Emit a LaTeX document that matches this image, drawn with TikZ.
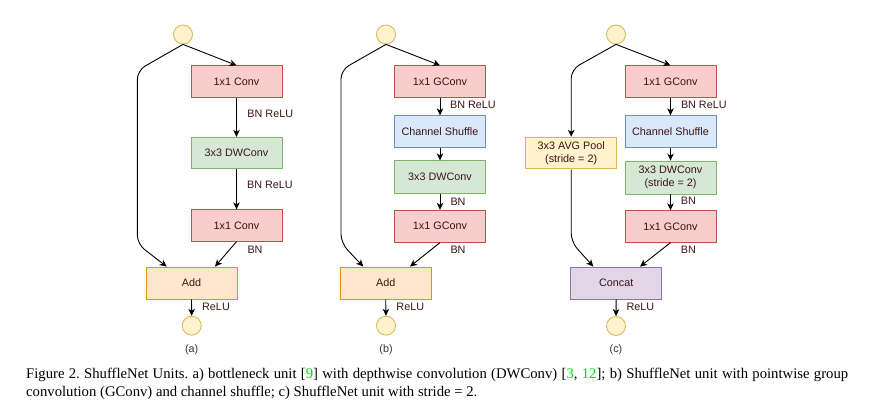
\documentclass[tikz,border=0pt]{standalone}
\usepackage{fontspec}
\setmainfont{Liberation Serif}
\newfontfamily\labfont{Liberation Sans}
\usetikzlibrary{arrows.meta,calc}
\frenchspacing
\definecolor{txt}{HTML}{3C1414}
\definecolor{redF}{HTML}{F8CECC}\definecolor{redD}{HTML}{B85450}
\definecolor{greenF}{HTML}{D5E8D4}\definecolor{greenD}{HTML}{82B366}
\definecolor{blueF}{HTML}{DAE8FC}\definecolor{blueD}{HTML}{6C8EBF}
\definecolor{orangeF}{HTML}{FFE6CC}\definecolor{orangeD}{HTML}{D79B00}
\definecolor{yelF}{HTML}{FFF2CC}\definecolor{yelD}{HTML}{D6B656}
\definecolor{purF}{HTML}{E1D5E7}\definecolor{purD}{HTML}{9673A6}
\definecolor{citegreen}{HTML}{00E000}
\tikzset{
  box/.style={rectangle, draw, line width=0.8pt, minimum width=91pt, minimum height=31.5pt,
    inner sep=0pt, align=center, text=txt, font=\labfont\fontsize{10.8}{13.5}\selectfont},
  redbox/.style={box, fill=redF, draw=redD},
  greenbox/.style={box, fill=greenF, draw=greenD},
  bluebox/.style={box, fill=blueF, draw=blueD},
  orangebox/.style={box, fill=orangeF, draw=orangeD},
  yelbox/.style={box, fill=yelF, draw=yelD},
  purbox/.style={box, fill=purF, draw=purD},
  port/.style={circle, draw=yelD, fill=yelF, line width=0.8pt, minimum size=19pt, inner sep=0pt},
  lbl/.style={text=txt, inner sep=0pt, font=\labfont\fontsize{10.8}{13}\selectfont},
  sub/.style={text=black!80, inner sep=0pt, font=\labfont\fontsize{10.8}{13}\selectfont},
  conn/.style={draw=black, line width=0.9pt, -{Stealth[length=7pt,width=6.5pt,inset=2pt]}},
  bypass/.style={conn, rounded corners=9pt},
  captxt/.style={anchor=base west, inner sep=0pt, font=\fontsize{14.7}{17}\selectfont},
}
\begin{document}
\begin{tikzpicture}[x=1pt,y=-1pt]
\path[use as bounding box, fill=white] (0,0) rectangle (881,416);

% ---------- (a) ----------
\node[port] (ain) at (183,34.5) {};
\node[redbox] (a1) at (236.5,81.5) {1x1 Conv};
\node[greenbox] (a2) at (236.5,153) {3x3 DWConv};
\node[redbox] (a3) at (236.5,225.5) {1x1 Conv};
\node[orangebox, minimum height=32pt] (aadd) at (191.5,283) {Add};
\node[port] (aout) at (191.7,325.7) {};
\node[sub] (alab) at (191.7,350) {(a)};
\draw[conn] (ain.south) -- (a1.north);
\draw[conn] (a1.south) -- (a2.north);
\draw[conn] (a2.south) -- (a3.north);
\draw[conn] (a3.south) -- ([xshift=23.5pt]aadd.north);
\draw[bypass] (ain.south) -- (137.3,70.5) -- (137.3,244) -- ([xshift=-24.8pt]aadd.north);
\draw[conn] (aadd.south) -- (aout.north);
\node[lbl] (al1) at (270.3,114) {BN ReLU};
\node[lbl] (al2) at (270,185) {BN ReLU};
\node[lbl] (al3) at (255,249.3) {BN};
\node[lbl] (al4) at (216,306.7) {ReLU};

% ---------- (b) ----------
\node[port] (bin) at (386,34.5) {};
\node[redbox] (b1) at (440,81.5) {1x1 GConv};
\node[bluebox] (b2) at (440,131.5) {Channel Shuffle};
\node[greenbox, minimum height=32.5pt] (b3) at (440,177) {3x3 DWConv};
\node[redbox, minimum height=32pt] (b4) at (440,226.2) {1x1 GConv};
\node[orangebox, minimum height=32pt] (badd) at (385.7,283) {Add};
\node[port] (bout) at (386,325.7) {};
\node[sub] (blab) at (386,350) {(b)};
\draw[conn] (bin.south) -- (b1.north);
\draw[conn] (b1.south) -- (b2.north);
\draw[conn] (b2.south) -- (b3.north);
\draw[conn] (b3.south) -- (b4.north);
\draw[conn] (b4.south) -- ([xshift=24.3pt]badd.north);
\draw[bypass] (bin.south) -- (341,70) -- (341,243) -- ([xshift=-22.4pt]badd.north);
\draw[conn] (badd.south) -- (bout.north);
\node[lbl] (bl1) at (473,105) {BN ReLU};
\node[lbl] (bl2) at (458,201.7) {BN};
\node[lbl] (bl3) at (458,250) {BN};
\node[lbl] (bl4) at (410.3,306.7) {ReLU};

% ---------- (c) ----------
\node[port] (cin) at (616,34.5) {};
\node[redbox] (c1) at (670.5,81.5) {1x1 GConv};
\node[bluebox] (c2) at (670.5,131.5) {Channel Shuffle};
\node[greenbox, minimum height=33pt] (c3) at (670.5,177.5) {3x3 DWConv\\(stride = 2)};
\node[redbox] (c4) at (670.5,226.5) {1x1 GConv};
\node[yelbox, minimum height=31.7pt] (cpool) at (571.2,153) {3x3 AVG Pool\\(stride = 2)};
\node[purbox, minimum height=32pt] (ccat) at (616.2,283) {Concat};
\node[port] (cout) at (616,326) {};
\node[sub] (clab) at (616,350) {(c)};
\draw[conn] (cin.south) -- (c1.north);
\draw[conn] (c1.south) -- (c2.north);
\draw[conn] (c2.south) -- (c3.north);
\draw[conn] (c3.south) -- (c4.north);
\draw[conn] (c4.south) -- ([xshift=23.8pt]ccat.north);
\draw[bypass] (cin.south) -- (571.2,69.5) -- (cpool.north);
\draw[bypass] (cpool.south) -- (571.2,242) -- ([xshift=-22.9pt]ccat.north);
\draw[conn] (ccat.south) -- (cout.north);
\node[lbl] (cl1) at (703.8,105) {BN ReLU};
\node[lbl] (cl2) at (688.3,200.7) {BN};
\node[lbl] (cl3) at (688.3,250) {BN};
\node[lbl] (cl4) at (640.3,306.7) {ReLU};

% ---------- caption ----------
\node[captxt] (cap1) at (26,378)
  {\makebox[822pt][s]{Figure 2. ShuffleNet Units. a) bottleneck unit [\textcolor{citegreen}{9}] with depthwise convolution (DWConv) [\textcolor{citegreen}{3}, \textcolor{citegreen}{12}]; b) ShuffleNet unit with pointwise group}};
\node[captxt] (cap2) at (26,396)
  {convolution (GConv) and channel shuffle; c) ShuffleNet unit with stride = 2.};
\end{tikzpicture}
\end{document}
